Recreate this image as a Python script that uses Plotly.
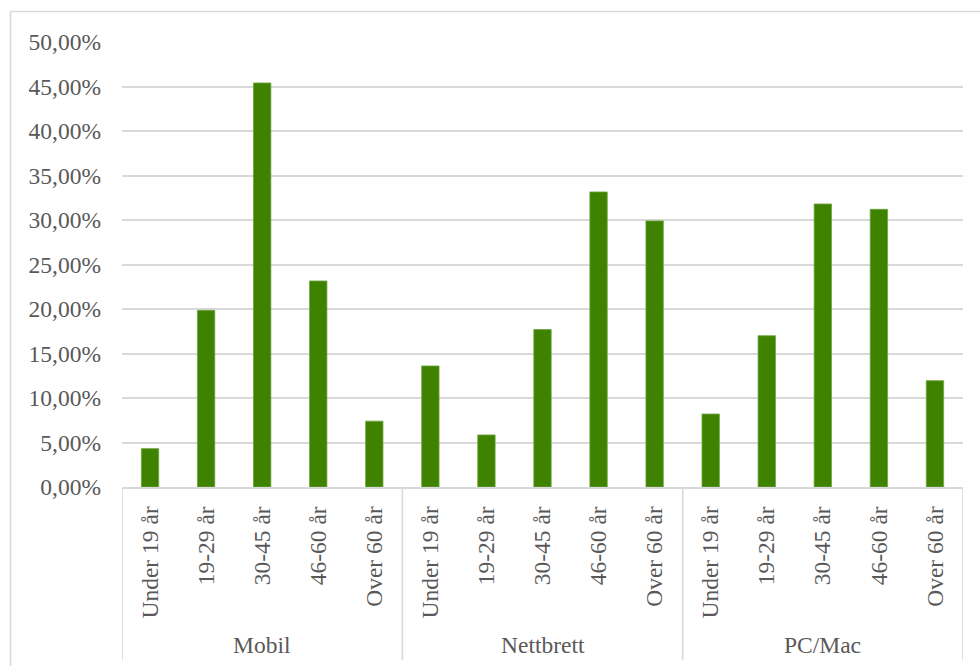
import plotly.graph_objects as go

# Device groups and age brackets
groups = ["Mobil", "Nettbrett", "PC/Mac"]
ages = ["Under 19 år", "19-29 år", "30-45 år", "46-60 år", "Over 60 år"]

# Share of users per age bracket within each device group
mobil = [0.0431, 0.1985, 0.4540, 0.2315, 0.0740]
nettbrett = [0.1360, 0.0585, 0.1770, 0.3315, 0.2990]
pcmac = [0.0820, 0.1700, 0.3180, 0.3120, 0.1195]

y_ticks = [i * 0.05 for i in range(11)]
y_tick_text = [f"{v * 100:.2f}%".replace(".", ",") for v in y_ticks]

values = mobil + nettbrett + pcmac
x_pos = list(range(len(values)))
tick_text = ages * len(groups)

FONT = "Liberation Serif, Times New Roman, serif"
TEXT = "#595959"
GRID = "#d9d9d9"

fig = go.Figure()
fig.add_trace(go.Bar(
    x=x_pos,
    y=values,
    width=0.31,
    marker=dict(color="#3f8200", line=dict(color="#6fa53f", width=0.8)),
    hoverinfo="y",
))

shapes = []
n = len(ages)
# group divider lines below the category axis
for g in range(len(groups) + 1):
    shapes.append(dict(
        type="line", xref="x", yref="paper",
        x0=g * n - 0.5, x1=g * n - 0.5, y0=0, y1=-0.389,
        line=dict(color=GRID, width=1.6),
    ))
# chart area border
shapes.append(dict(
    type="rect", xref="paper", yref="paper",
    x0=-0.1325, x1=1.2, y0=-0.6, y1=1.0685,
    line=dict(color=GRID, width=1.6), layer="below",
))

annotations = []
for g, name in enumerate(groups):
    annotations.append(dict(
        x=g * n + (n - 1) / 2, y=-0.355, xref="x", yref="paper",
        text=name, showarrow=False, yanchor="middle",
        font=dict(family=FONT, size=23.5, color=TEXT),
    ))

fig.update_layout(
    width=980, height=666,
    margin=dict(l=122, r=17, t=42, b=179),
    paper_bgcolor="white", plot_bgcolor="white",
    showlegend=False,
    shapes=shapes,
    annotations=annotations,
    font=dict(family=FONT, size=23.5, color=TEXT),
    xaxis=dict(
        range=[-0.5, len(values) - 0.5],
        tickmode="array", tickvals=x_pos, ticktext=tick_text,
        tickangle=-90, ticks="", showgrid=False,
        showline=True, linecolor=GRID, linewidth=1.8,
        ticklabelstandoff=8,
        tickfont=dict(family=FONT, size=23.5, color=TEXT),
        fixedrange=True,
    ),
    yaxis=dict(
        range=[0, 0.5],
        tickmode="array", tickvals=y_ticks, ticktext=y_tick_text,
        showgrid=True, gridcolor=GRID, gridwidth=1.8,
        zeroline=False, showline=False, ticks="",
        ticklabelstandoff=20,
        tickfont=dict(family=FONT, size=23.5, color=TEXT),
        fixedrange=True,
    ),
)

fig.write_html("out.html")
